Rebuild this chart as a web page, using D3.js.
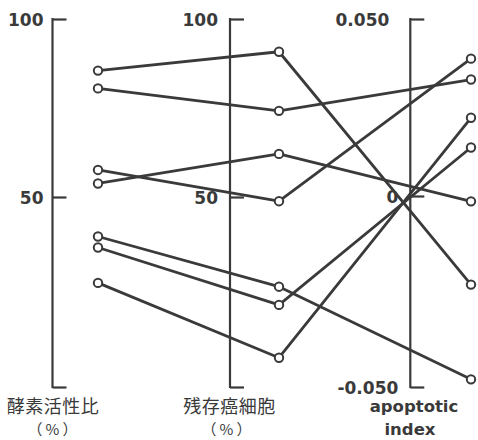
<!DOCTYPE html>
<html><head><meta charset="utf-8">
<script src="https://cdn.jsdelivr.net/npm/d3@7"></script>
<style>
html,body{margin:0;padding:0;background:#fff;}
svg{display:block;}
.num{font-family:"DejaVu Sans",sans-serif;font-weight:bold;font-size:17px;fill:#3a3a3a;}
.cjk{font-family:"Noto Sans CJK JP",sans-serif;font-size:18px;fill:#3a3a3a;letter-spacing:0.5px;}
.cjk2{font-family:"Noto Sans CJK JP",sans-serif;font-size:15px;fill:#3a3a3a;letter-spacing:3px;}
.lat{font-family:"DejaVu Sans",sans-serif;font-weight:bold;font-size:16.5px;fill:#3a3a3a;}
</style>
</head><body>
<script>
// Data: enzyme activity ratio (%), residual cancer cells (%), apoptotic index
const dimensions = ["酵素活性比", "残存癌細胞", "apoptotic index"];
const enzymeRatio   = [85.5, 80.5, 57.6, 53.8, 39.6, 36.7, 27.4];
const residualCells = [90.8, 74.2, 48.9, 62.1, 26.4, 21.6, 7.7];
const apoptoticIdx  = [-0.0232, 0.0329, 0.0388, -0.0014, -0.048, 0.0137, 0.0221];
const pctTicks = [0, 50, 100];
const apoTicks = [-0.05, 0, 0.05];
const pctTickLabels = ["", "50", "100"];
const apoTickLabels = ["-0.050", "0", "0.050"];

const W = 478, H = 440;
const svg = d3.select("body").append("svg").attr("width", W).attr("height", H);
const ink = "#3a3a3a";

const yPct = d3.scaleLinear().domain([0, 50, 100]).range([387, 197, 19]);
const yApo = d3.scaleLinear().domain([-0.05, 0, 0.05]).range([387, 196, 19]);

const axisX = d3.scaleOrdinal().domain(dimensions).range([52.5, 230, 410.3]);
const pointX = d3.scaleOrdinal().domain(dimensions).range([98, 279, 471]);

function drawAxis(dim, scale, ticks, labels, pad) {
  const ax = d3.axisLeft(scale).tickValues(ticks)
    .tickFormat((d, i) => labels[i]).tickSizeInner(-14).tickSizeOuter(0).tickPadding(pad);
  const g = svg.append("g").attr("transform", `translate(${axisX(dim)},0)`).call(ax);
  g.select(".domain").remove();
  g.selectAll(".tick line").attr("stroke", ink).attr("stroke-width", 2.2);
  g.selectAll(".tick text").attr("class", "num").attr("dy", "0.36em").attr("fill", null);
  g.append("line").attr("x1", 0).attr("x2", 0)
    .attr("y1", scale.range()[2] - 1).attr("y2", scale.range()[0] + 1)
    .attr("stroke", ink).attr("stroke-width", 2.2);
  return g;
}
drawAxis(dimensions[0], yPct, pctTicks, pctTickLabels, 9);
drawAxis(dimensions[1], yPct, pctTicks, pctTickLabels, 12);
const gr = drawAxis(dimensions[2], yApo, apoTicks, apoTickLabels, 12);
gr.selectAll(".tick text").filter(d => d === 0.05).attr("dx", -9);

// connecting lines
const rows = enzymeRatio.map((v, i) => [
  [pointX(dimensions[0]), yPct(v)],
  [pointX(dimensions[1]), yPct(residualCells[i])],
  [pointX(dimensions[2]), yApo(apoptoticIdx[i])]
]);
const line = d3.line();
svg.append("g").selectAll("path").data(rows).join("path")
  .attr("d", line).attr("fill", "none").attr("stroke", ink)
  .attr("stroke-width", 2.8).attr("stroke-linejoin", "round");

// circles
const pts = rows.flat();
svg.append("g").selectAll("circle").data(pts).join("circle")
  .attr("cx", d => d[0]).attr("cy", d => d[1]).attr("r", 4.2)
  .attr("fill", "#fff").attr("stroke", ink).attr("stroke-width", 2);

// axis titles
svg.append("text").attr("class", "cjk").attr("text-anchor", "middle")
  .attr("x", 53).attr("y", 412.5).text("酵素活性比");
svg.append("text").attr("class", "cjk2").attr("text-anchor", "middle")
  .attr("x", 54).attr("y", 435.4).text("（%）");
svg.append("text").attr("class", "cjk").attr("text-anchor", "middle")
  .attr("x", 229.5).attr("y", 412.5).text("残存癌細胞");
svg.append("text").attr("class", "cjk2").attr("text-anchor", "middle")
  .attr("x", 228).attr("y", 435.4).text("（%）");
svg.append("text").attr("class", "lat").attr("text-anchor", "middle")
  .attr("x", 414).attr("y", 411.5).text("apoptotic");
svg.append("text").attr("class", "lat").attr("text-anchor", "middle")
  .attr("x", 410).attr("y", 435).text("index");
</script>
</body></html>
